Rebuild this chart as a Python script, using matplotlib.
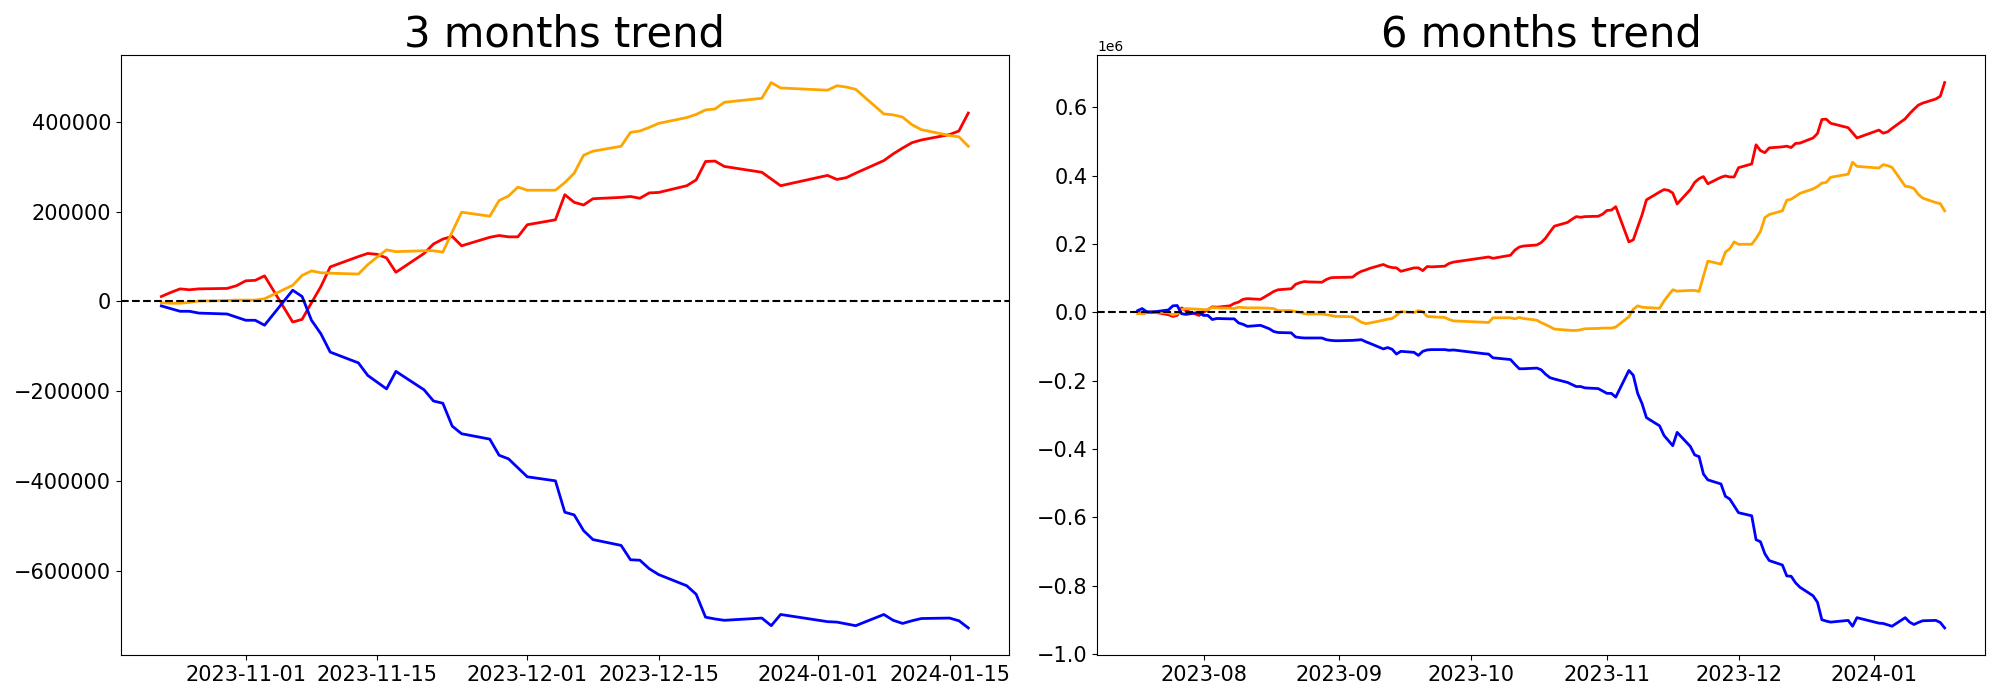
import matplotlib
matplotlib.use('Agg')
import matplotlib.pyplot as plt
import numpy as np
import pandas as pd

# KRX trading days, 2023-07-17 .. 2024-01-17
holidays = ['2023-08-15', '2023-09-28', '2023-09-29', '2023-10-02', '2023-10-03',
            '2023-10-09', '2023-12-25', '2023-12-29', '2024-01-01']
days6 = pd.bdate_range('2023-07-17', '2024-01-17')
days6 = days6[~days6.isin(pd.to_datetime(holidays))]
days3 = days6[days6 >= '2023-10-23']

# 3 months, cumulative (thousands)
red3 = [11, 20, 28, 26, 28, 29, 35,
        46, 47, 57, -46, -40, -3, 33, 77, 100, 107, 105, 97, 65, 107, 128, 139, 145, 124, 143, 147, 144, 144,
        171, 182, 238, 221, 215, 229, 232, 234, 230, 242, 243, 258, 271, 312, 313, 301, 288, 273, 258,
        281, 272, 276, 286, 314, 329, 342, 354, 360, 372, 380, 420]
orange3 = [-3, -4, -4, -2, 1, 2, 3,
           3, 3, 6, 36, 58, 68, 64, 63, 61, 82, 99, 115, 111, 113, 113, 110, 155, 199, 190, 225, 235, 255,
           248, 248, 265, 286, 326, 335, 346, 377, 380, 388, 397, 410, 417, 427, 429, 444, 453, 488, 476,
           471, 481, 478, 473, 418, 416, 411, 394, 383, 370, 367, 346]
blue3 = [-10, -16, -22, -22, -26, -28, -35,
         -42, -42, -53, 25, 11, -42, -72, -113, -137, -165, -180, -195, -156, -197, -222, -227, -278, -295,
         -307, -343, -351, -371,
         -391, -400, -470, -476, -511, -531, -544, -576, -577, -596, -609, -634, -653, -704, -708, -711,
         -706, -723, -698,
         -714, -715, -719, -723, -698, -711, -718, -712, -707, -706, -712, -728]

# 6 months, cumulative (thousands)
red6 = [2, -4, -1, 0, 0, -7, -12, -9, 13, 5, -9,
        0, 8, 16, 15, 19, 26, 30, 38, 40, 38, 53, 61, 66, 69, 82, 87, 90, 89, 88, 96, 101, 102,
        102, 103, 113, 120, 124, 129, 140, 134, 131, 130, 120, 130, 130, 122, 134, 133, 135, 143, 147,
        160, 162, 158, 167, 182, 191, 194, 197, 204, 217, 235, 252,
        263, 272, 280, 278, 280, 281, 287,
        298, 299, 309, 206, 212, 249, 285, 329, 352, 359, 357, 349, 317, 359, 380, 391, 397, 376, 395,
        399, 396, 396,
        423, 434, 490, 473, 467, 481, 484, 486, 482, 494, 495, 510, 523, 564, 565, 553, 540, 525, 510,
        533, 524, 528, 538, 566, 581, 594, 606, 612, 624, 632, 672]
orange6 = [-4, -4, 0, 2, 1, -1, -7, -4, 8, 11, 9,
           8, 8, 14, 13, 12, 11, 15, 14, 13, 13, 12, 11, 5, 5, 2, 0, -4, -5, -5, -7, -9, -12,
           -12, -13, -21, -29, -33, -31, -23, -20, -18, -9, 2, -1, 5, 2, -12, -13, -15, -21, -25,
           -29, -30, -16, -16, -19, -15, -18, -23, -30, -36, -42, -49,
           -52, -53, -53, -51, -48, -47, -46,
           -46, -46, -43, -13, 9, 19, 15, 14, 12, 33, 50, 66, 62, 64, 64, 61, 106, 150, 141, 176, 186, 206,
           199, 199, 216, 237, 277, 286, 297, 328, 331, 339, 348, 361, 368, 378, 380, 395, 404, 439, 427,
           422, 432, 429, 424, 369, 367, 362, 345, 334, 321, 318, 297]
blue6 = [5, 11, 2, 1, 2, 7, 19, 20, -4, -6, 0,
         -9, -9, -21, -18, -19, -19, -31, -35, -41, -38, -48, -56, -59, -60, -72, -74, -75, -75, -75,
         -80, -82, -83,
         -83, -82, -81, -80, -86, -91, -107, -103, -108, -122, -114, -117, -126, -114, -110, -109, -109,
         -111, -110,
         -121, -122, -133, -138, -152, -165, -165, -163, -168, -181, -191, -195,
         -205, -211, -217, -217, -221, -223, -230,
         -237, -237, -248, -170, -184, -237, -267, -308, -332, -360, -375, -390, -351, -392, -417, -422,
         -473, -490, -502, -538, -546, -566,
         -586, -595, -665, -671, -706, -726, -739, -771, -772, -791, -804, -829, -848, -899, -903, -906,
         -901, -918, -893,
         -909, -910, -914, -918, -893, -906, -913, -907, -902, -901, -907, -923]

fig, axes = plt.subplots(1, 2, figsize=(20, 7), dpi=100)
panels = [(axes[0], days3, red3, orange3, blue3, '3 months trend'),
          (axes[1], days6, red6, orange6, blue6, '6 months trend')]

for ax, days, r, o, b, title in panels:
    ax.plot(days, np.array(r) * 1e3, color='red', linewidth=2)
    ax.plot(days, np.array(o) * 1e3, color='orange', linewidth=2)
    ax.plot(days, np.array(b) * 1e3, color='blue', linewidth=2)
    ax.axhline(0, color='black', linestyle='--', linewidth=1.5)
    ax.set_title(title, fontsize=30)
    ax.tick_params(labelsize=15)

plt.subplots_adjust(left=0.0605, right=0.9925, top=0.921, bottom=0.064, wspace=0.1)
plt.savefig('out.png')
